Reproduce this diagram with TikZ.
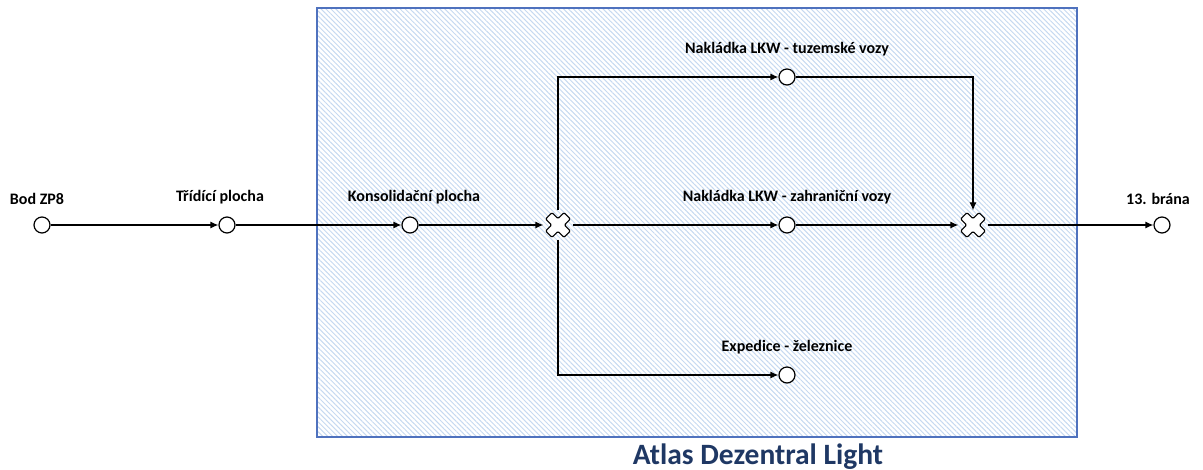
\documentclass[tikz,border=0pt]{standalone}
\usepackage{fontspec}
\setmainfont{Carlito}
\usetikzlibrary{arrows.meta}
\usetikzlibrary{patterns.meta}
\definecolor{boxblue}{RGB}{79,114,190}
\definecolor{hatchblue}{RGB}{198,217,240}
\definecolor{titleblue}{RGB}{31,56,100}

\begin{document}
\begin{tikzpicture}[x=1pt,y=-1pt,->,>={Latex[length=8pt,width=7pt]},line width=1.2pt,font=\bfseries\fontsize{16}{18}\selectfont]
  \tikzstyle{stop}=[circle,draw,fill=white,minimum size=16pt,inner sep=0pt]
  \tikzstyle{every label}=[yshift=8pt]
  \tikzstyle{gate}=[rectangle,minimum size=28pt,inner sep=0pt,
    path picture={\draw[-,fill=white,rounded corners=1.2pt,shift={(path picture bounding box.center)}]
      (-6.01,12.37)--(0,6.36)--(6.01,12.37)--(12.37,6.01)--(6.36,0)--(12.37,-6.01)--(6.01,-12.37)--(0,-6.36)
      --(-6.01,-12.37)--(-12.37,-6.01)--(-6.36,0)--(-12.37,6.01)--cycle;}]
  \useasboundingbox (0,0) rectangle (1203,470);

  \draw[-,draw=boxblue,line width=1.5pt,pattern={Lines[angle=-45,distance=3.5pt,line width=1pt]},pattern color=hatchblue] (317,8) rectangle (1077,437);
  \node[text=titleblue,font=\bfseries\fontsize{29.5}{32}\selectfont] (atlas) at (758,457) {Atlas Dezentral Light};

  \node[stop,label={[xshift=-5pt]above:{Bod ZP8}}]             (z)  at (42,225)   {};
  \node[stop,label={[xshift=-7pt]above:{Třídící plocha}}]      (t)  at (227,225)  {};
  \node[stop,label={[xshift=4pt]above:{Konsolidační plocha}}]  (k)  at (410,225)  {};
  \node[gate]                                                  (g1) at (558,225)  {};
  \node[stop,label=above:{Nakládka LKW - tuzemské vozy}]       (nt) at (787,77)   {};
  \node[stop,label=above:{Nakládka LKW - zahraniční vozy}]     (nz) at (787,225)  {};
  \node[stop,label=above:{Expedice - železnice}]               (ne) at (787,375)  {};
  \node[gate]                                                  (g2) at (973,225)  {};
  \node[stop,label={[xshift=-4pt]above:{13. brána}}]           (b)  at (1162,225) {};

  \path (z) edge (t)
        (t) edge (k)
        (k) edge (g1)
        (g1) edge (nz)
        (nz) edge (g2)
        (g2) edge (b);
  \draw (g1) |- (nt);
  \draw (g1) |- (ne);
  \draw (nt) -| (g2);
\end{tikzpicture}
\end{document}
